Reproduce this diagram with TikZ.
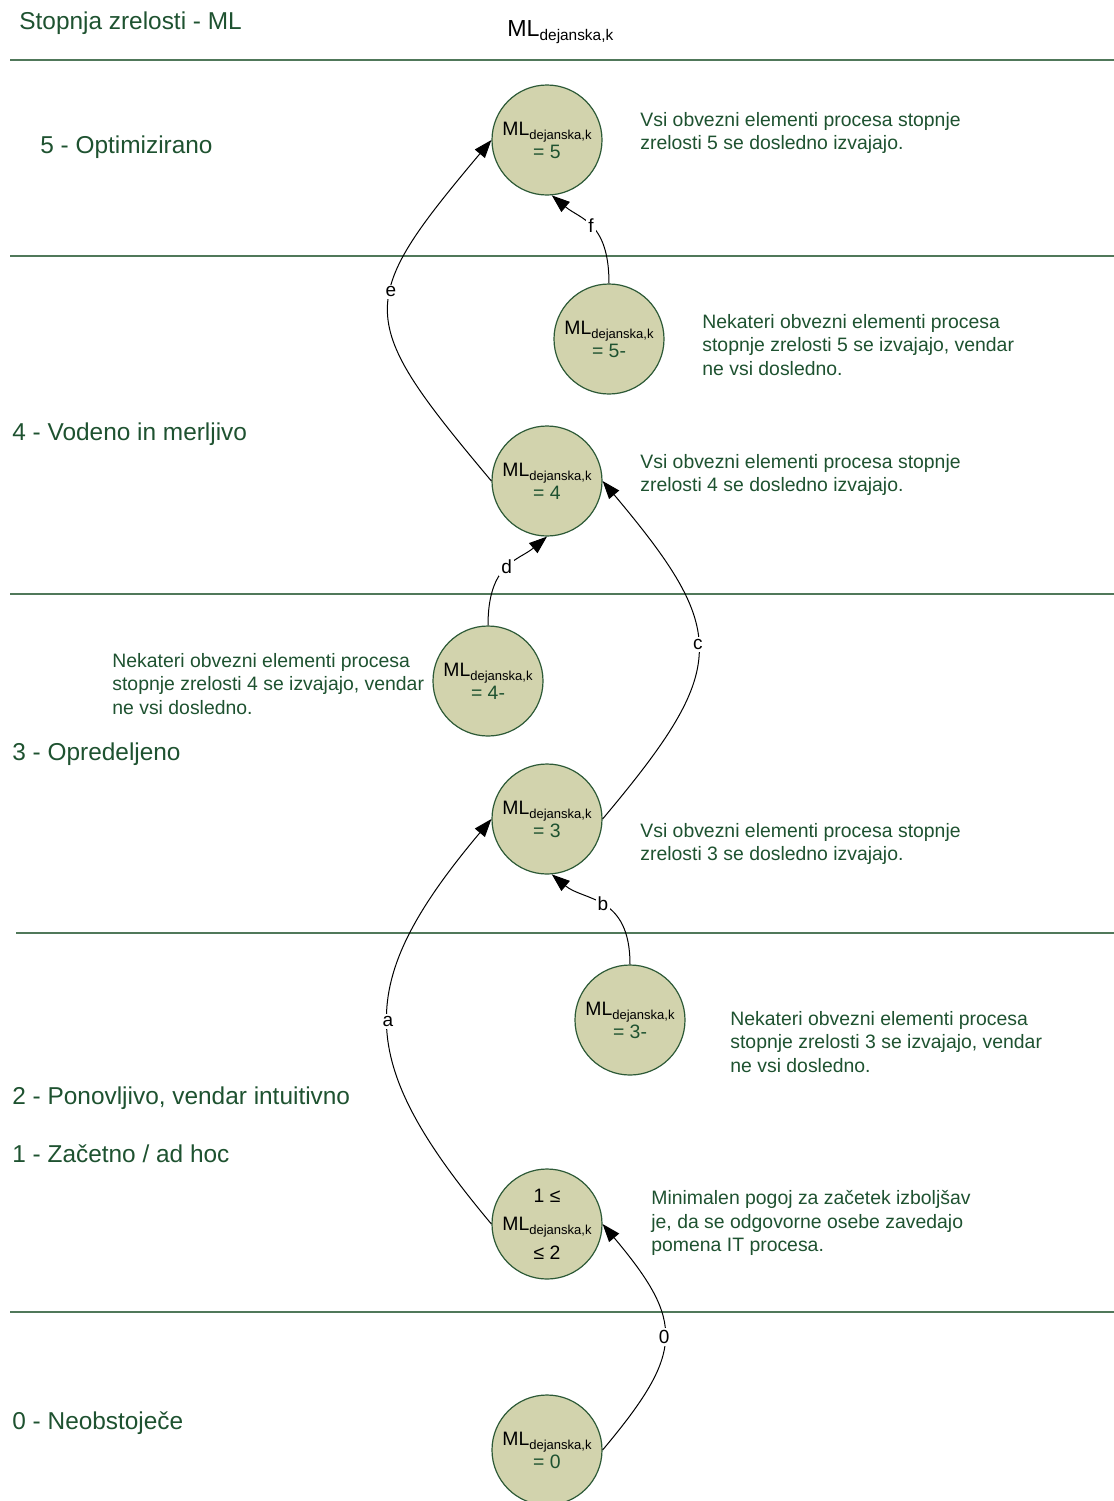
\documentclass[tikz,border=0pt]{standalone}
\usepackage{fontspec}
\setmainfont{Liberation Sans}
\usetikzlibrary{arrows.meta}

\definecolor{txtgreen}{RGB}{30,82,48}
\definecolor{rulegreen}{RGB}{80,120,90}
\definecolor{discfill}{RGB}{210,211,173}
\definecolor{discedge}{RGB}{45,90,55}

% "ML" with its subscript, as printed in the discs
\newcommand\mldk{ML\raisebox{-2pt}{\fontsize{6.5}{7}\selectfont dejanska,k}}
\newcommand\grn[1]{\textcolor{txtgreen}{#1}}

\tikzset{
  levelname/.style={anchor=base west, text=txtgreen, inner sep=0,
                    font=\fontsize{12.2}{14}\selectfont},
  desc/.style={anchor=north west, align=left, text=txtgreen, inner sep=0,
               font=\fontsize{9.7}{11.75}\selectfont},
  disc/.style={circle, draw=discedge, fill=discfill, line width=0.6pt,
               minimum size=55pt, inner sep=0, align=center,
               font=\fontsize{9.7}{11.5}\selectfont},
  band/.style={draw=rulegreen, line width=0.6pt},
  flow/.style={draw=black, line width=0.5pt,
               -{Triangle[length=9pt,width=6.5pt]}},
  tag/.style={fill=white, inner sep=1pt, font=\fontsize{9.5}{10}\selectfont},
}

\begin{document}
\begin{tikzpicture}[x=0.5pt,y=-0.5pt]
\useasboundingbox (0,0) rectangle (1114,1501);
\fill[white] (0,0) rectangle (1114,1501);

% level separators
\draw[band] (10,60)   -- (1114,60);
\draw[band] (10,256)  -- (1114,256);
\draw[band] (10,594)  -- (1114,594);
\draw[band] (16,933)  -- (1114,933);
\draw[band] (10,1312) -- (1114,1312);

% headings
\node[levelname] (title) at (19,29) {Stopnja zrelosti - ML};
\node[anchor=base west, inner sep=0, font=\fontsize{11.6}{12}\selectfont]
  (head) at (507,36) {ML\raisebox{-2.3pt}{\fontsize{7.7}{8}\selectfont dejanska,k}};

% maturity level names
\node[levelname] (l5) at (40,153)  {5 - Optimizirano};
\node[levelname] (l4) at (12,440)  {4 - Vodeno in merljivo};
\node[levelname] (l3) at (12,760)  {3 - Opredeljeno};
\node[levelname] (l2) at (12,1104) {2 - Ponovljivo, vendar intuitivno};
\node[levelname] (l1) at (12,1162) {1 - Začetno / ad hoc};
\node[levelname] (l0) at (12,1429) {0 - Neobstoječe};

% states
\node[disc] (c5)  at (547,140)  {\mldk\\\grn{= 5}};
\node[disc] (c5m) at (609,339)  {\mldk\\\grn{= 5-}};
\node[disc] (c4)  at (547,481)  {\mldk\\\grn{= 4}};
\node[disc] (c4m) at (488,681)  {\mldk\\\grn{= 4-}};
\node[disc] (c3)  at (547,819)  {\mldk\\\grn{= 3}};
\node[disc] (c3m) at (630,1020) {\mldk\\\grn{= 3-}};
\node[disc, inner sep=-4pt, font=\fontsize{9.7}{14.2}\selectfont] (c12) at (547,1224) {1 ≤\\\mldk\\≤ 2};
\node[disc] (c0)  at (547,1450) {\mldk\\\grn{= 0}};

% descriptions
\node[desc] (d5)  at (640,112)  {Vsi obvezni elementi procesa stopnje\\zrelosti 5 se dosledno izvajajo.};
\node[desc] (d5m) at (702,314)  {Nekateri obvezni elementi procesa\\stopnje zrelosti 5 se izvajajo, vendar\\ne vsi dosledno.};
\node[desc] (d4)  at (640,454)  {Vsi obvezni elementi procesa stopnje\\zrelosti 4 se dosledno izvajajo.};
\node[desc] (d4m) at (112,653)  {Nekateri obvezni elementi procesa\\stopnje zrelosti 4 se izvajajo, vendar\\ne vsi dosledno.};
\node[desc] (d3)  at (640,823)  {Vsi obvezni elementi procesa stopnje\\zrelosti 3 se dosledno izvajajo.};
\node[desc] (d3m) at (730,1011) {Nekateri obvezni elementi procesa\\stopnje zrelosti 3 se izvajajo, vendar\\ne vsi dosledno.};
\node[desc] (d12) at (651,1190) {Minimalen pogoj za začetek izboljšav\\je, da se odgovorne osebe zavedajo\\pomena IT procesa.};

% transitions
\draw[flow] (c0.east)   to[out=50,in=-50,looseness=1.45] node[tag] {0} (c12.east);
\draw[flow] (c12.west)  to[out=130,in=230,looseness=1.36] node[tag] {a} (c3.west);
\draw[flow] (c3m.north) to[out=90,in=-40,out looseness=1.5,in looseness=0.9] node[tag] {b} (c3.-85);
\draw[flow] (c3.east)   to[out=50,in=-50,looseness=1.5] node[tag,pos=0.52] {c} (c4.east);
\draw[flow] (c4m.north) to[out=90,in=-140,out looseness=1.5,in looseness=0.9] node[tag] {d} (c4.south);
\draw[flow] (c4.west)   to[out=130,in=230,looseness=1.6] node[tag,pos=0.57] {e} (c5.west);
\draw[flow] (c5m.north) to[out=90,in=-40,out looseness=1.5,in looseness=0.9] node[tag] {f} (c5.-85);
\end{tikzpicture}
\end{document}
